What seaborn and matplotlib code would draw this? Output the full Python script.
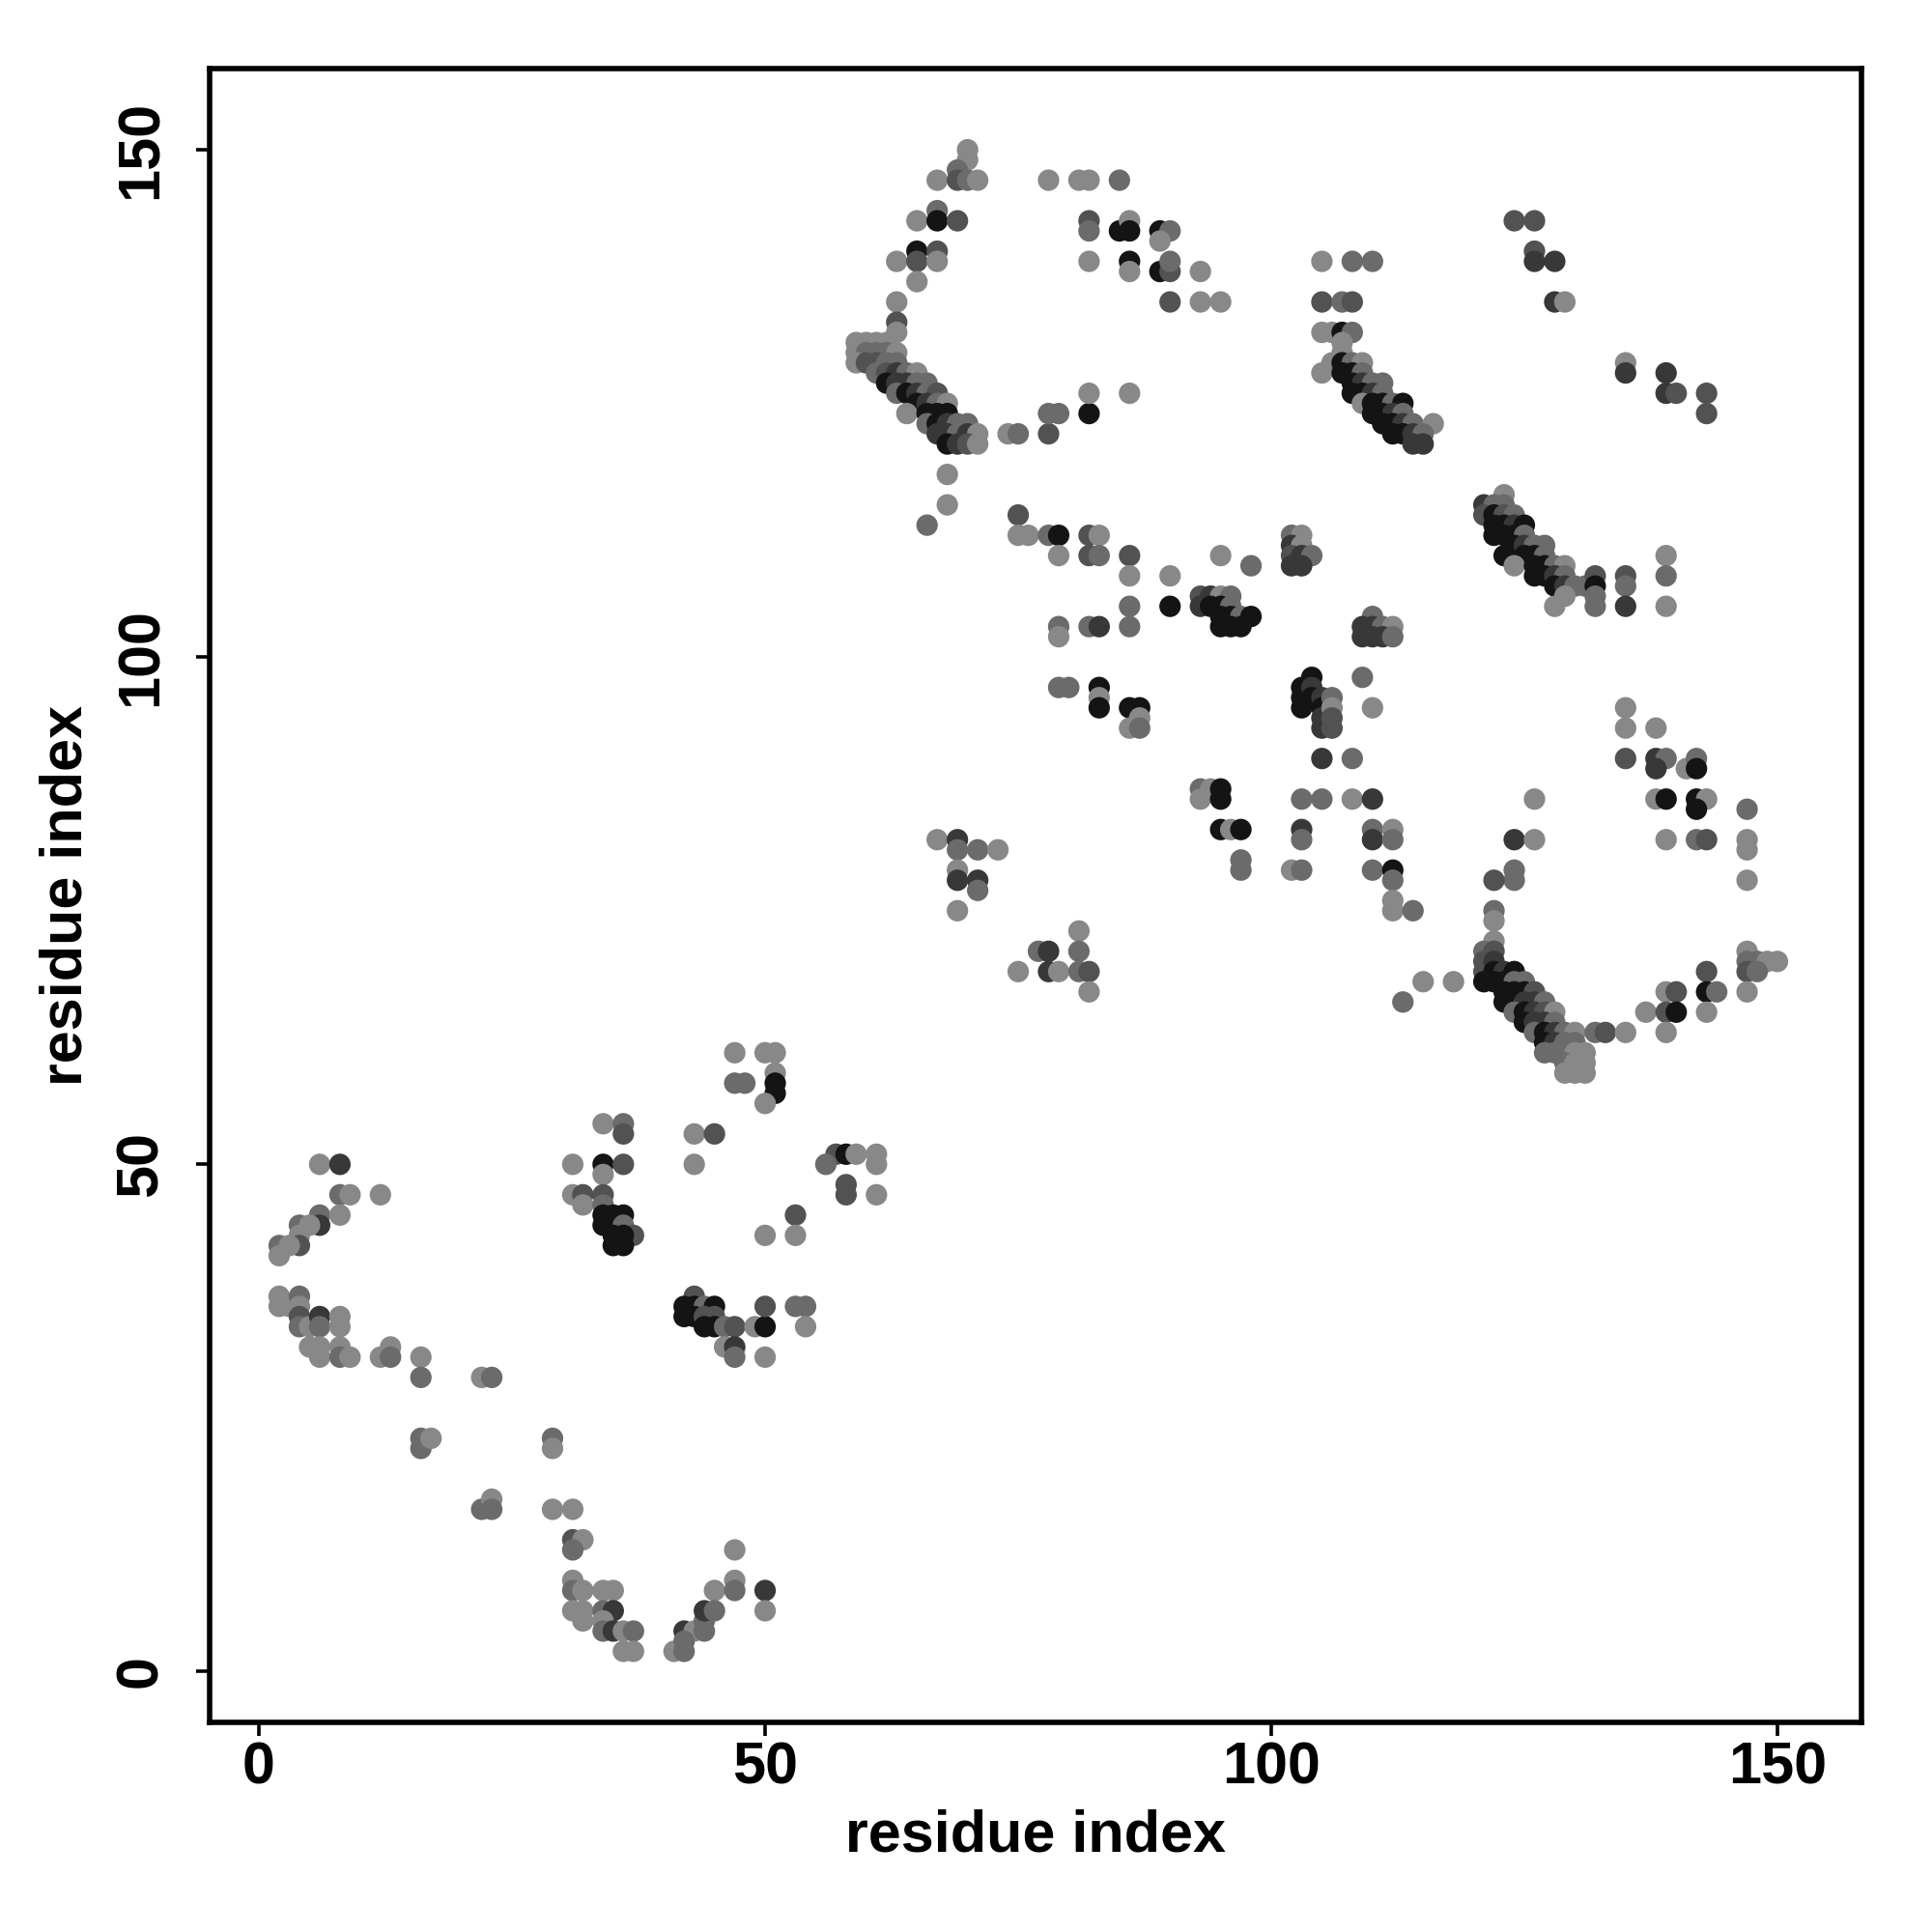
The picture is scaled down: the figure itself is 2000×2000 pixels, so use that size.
### Contact map of residue pairs, shaded by contact strength
import pandas as pd
import numpy as np
import seaborn as sns
import matplotlib.pyplot as plt

### contacts as (residue i, residue j, shade level 1=light .. 5=darkest)
lower_left = [
    (6,50,1),(8,50,4),(8,47,2),(9,47,1),(12,47,1),
    (6,45,2),(6,44,4),(8,45,1),(4,44,2),(5,44,1),(4,43,1),(4,42,3),
    (2,42,2),(2,41,1),(3,42,1),
    (2,37,1),(2,36,1),(3,36,1),(4,37,2),(4,36,1),
    (4,35,3),(4,34,2),(5,34,1),(6,35,4),(6,34,2),(8,35,1),(8,34,1),
    (5,32,1),(6,32,1),(6,31,1),(8,32,1),(8,31,2),(9,31,1),
    (12,31,1),(13,32,1),(13,31,2),(16,31,1),(16,29,2),(22,29,1),(23,29,2),
    (16,23,2),(16,22,2),(17,23,1),(22,16,2),(23,17,1),(23,16,2),
]

lower_bottom = [
    (29,23,2),(29,22,1),(29,16,1),(31,16,1),
    (31,13,3),(32,13,1),(31,12,2),(47,12,1),
    (31,9,1),(31,8,2),(32,8,1),(34,8,1),(35,8,1),
    (45,8,1),(47,9,1),(47,8,2),(50,8,4),
    (31,6,1),(32,6,1),(32,5,1),(34,6,2),(35,6,4),(34,5,1),
    (34,4,2),(35,4,4),(36,4,1),(37,4,2),(36,2,1),(37,2,1),
    (41,2,1),(42,2,2),(42,4,4),(43,4,1),(42,3,2),
    (44,5,2),(44,4,2),(44,6,4),(45,6,2),(50,6,1),
]

lower_mid = [
    (47,61,1),(50,61,1),(51,61,1),(51,59,1),
    (47,58,2),(48,58,2),(51,58,5),(51,57,5),(50,56,1),
    (34,54,1),(36,54,2),(36,53,3),(43,53,1),(45,53,3),
    (31,50,1),(34,50,5),(34,49,1),(36,50,3),(43,50,1),
    (31,47,1),(32,47,3),(32,46,1),(34,47,3),(34,46,2),
    (34,45,5),(34,44,5),(35,45,5),(36,45,5),(35,44,5),(36,44,2),(37,43,3),
    (35,43,5),(36,43,5),(35,42,5),(36,42,5),
    (53,45,3),(50,43,1),(53,43,1),
    (57,51,3),(58,51,5),(59,51,1),(61,51,1),(56,50,2),(61,50,1),
    (58,48,3),(58,47,3),(61,47,1),
    (43,37,3),(42,36,5),(42,35,5),(43,36,5),(44,36,2),(45,36,5),
    (43,35,5),(44,35,3),(45,35,3),(44,34,5),(45,34,5),(46,34,2),(47,34,3),
    (49,34,1),(50,34,5),(50,36,3),(53,36,2),(54,36,2),(54,34,1),
    (46,32,1),(47,32,4),(47,31,2),(50,31,1),
]

upper_left = [
    (70,150,1),(70,149,1),(67,147,1),(69,148,2),(69,147,3),(70,147,2),(71,147,1),
    (78,147,1),(81,147,1),(82,147,1),(85,147,2),
    (65,143,1),(67,144,2),(67,143,5),(69,143,3),(82,143,3),(82,142,2),
    (85,142,5),(86,143,1),(86,142,5),(89,142,5),(90,142,2),(89,141,1),
    (63,139,1),(65,140,5),(65,139,3),(67,140,3),(67,139,1),(65,137,1),
    (82,139,1),(86,139,5),(86,138,1),(89,138,5),(90,138,3),(90,139,2),(90,135,3),
    (63,135,1),(63,133,3),(63,132,1),
    (59,131,1),(60,131,1),(61,131,1),(62,131,1),
    (59,130,1),(60,130,2),(61,130,2),(62,130,2),(63,130,1),
    (59,129,1),(60,129,3),(61,129,3),(62,129,2),(63,129,2),
    (61,128,2),(62,128,3),(63,128,4),(64,128,2),(65,128,1),
    (62,127,5),(63,127,4),(64,127,4),(65,127,2),(66,127,2),
    (63,126,2),(64,126,5),(65,126,4),(66,126,2),(67,126,3),
    (65,125,5),(66,125,4),(67,125,2),(68,125,1),
    (64,124,1),(66,124,5),(67,124,5),(68,124,5),
    (66,123,2),(67,123,5),(68,123,4),(69,123,2),(70,123,2),
    (67,122,4),(68,122,4),(69,122,2),(70,122,4),(71,122,1),
    (68,121,5),(69,121,4),(70,121,3),(71,121,1),
    (74,122,1),(75,122,2),(78,122,3),(78,124,2),(79,124,2),(82,124,5),
    (82,126,1),(86,126,1),(68,118,1),(68,115,1),(66,113,2),(75,114,3),
]

upper_mid = [
    (93,138,1),(93,135,1),(95,135,1),
    (105,139,1),(108,139,2),(110,139,2),(105,135,3),(107,135,2),(108,135,3),
    (105,132,1),(106,132,1),(107,132,5),(108,132,2),
    (107,131,1),(107,130,1),(106,129,1),(105,128,1),
    (107,129,5),(108,129,2),(109,129,1),(107,128,5),(108,128,5),(109,128,2),
    (108,127,5),(109,127,4),(110,127,2),(111,127,2),
    (108,126,5),(109,126,5),(110,126,4),(111,126,2),
    (109,125,1),(110,125,5),(111,125,5),(112,125,2),(113,125,5),
    (110,124,5),(111,124,5),(112,124,4),(113,124,2),
    (111,123,5),(112,123,5),(113,123,4),(114,123,2),(116,123,1),
    (112,122,5),(113,122,5),(114,122,4),(115,122,2),(114,121,4),(115,121,4),
]

upper_right = [
    (124,143,3),(126,143,3),(126,140,3),(126,139,4),(128,139,4),
    (128,135,4),(129,135,1),(135,129,1),(135,128,4),(139,128,4),
    (139,126,4),(140,126,3),(143,126,3),(143,124,3),
]

centre = [
    (75,112,1),(76,112,1),(78,112,2),(79,112,5),(82,112,3),(83,112,1),
    (79,110,1),(82,110,3),(83,110,2),(86,110,3),
    (86,108,1),(90,108,1),(95,110,1),(98,109,2),(86,105,2),(90,105,5),
    (93,106,3),(94,106,4),(95,106,1),(96,106,2),
    (93,105,4),(94,105,5),(95,105,5),(96,105,2),
    (95,104,5),(96,104,5),(97,104,2),(98,104,5),(95,103,5),(96,103,5),(97,103,5),
    (79,103,2),(79,102,1),(82,103,2),(83,103,4),(86,103,2),
    (79,97,2),(80,97,2),(83,97,5),(83,96,1),(83,95,5),(86,95,5),(87,95,5),
    (87,94,1),(86,93,1),(87,93,2),
    (93,87,2),(94,87,1),(95,87,5),(93,86,1),(95,86,5),
]

centre_right = [
    (102,112,2),(103,112,1),(102,111,4),(103,111,1),
    (102,110,3),(103,110,4),(104,110,2),(102,109,4),(103,109,4),
    (110,104,2),(109,103,4),(110,103,4),(111,103,2),(112,103,1),
    (109,102,4),(110,102,4),(111,102,4),(112,102,2),
    (109,98,2),(104,98,5),(103,97,5),(103,96,5),(103,95,5),(104,97,4),(104,96,5),
    (105,96,4),(105,95,5),(105,94,4),(105,93,4),
    (106,96,2),(106,95,1),(106,94,3),(106,93,3),(110,95,1),
    (105,90,4),(108,90,2),(103,86,2),(105,86,2),(108,86,1),(110,86,4),(126,86,1),
    (123,116,1),(121,115,4),(122,115,2),(123,115,2),
    (121,114,3),(122,114,5),(123,114,3),(124,114,2),
    (122,113,5),(123,113,5),(124,113,4),(125,113,5),
    (122,112,5),(123,112,5),(124,112,5),(125,112,2),
    (124,111,5),(125,111,4),(126,111,2),(127,111,2),
    (123,110,5),(125,110,5),(126,110,5),(127,110,2),
    (124,109,1),(126,109,5),(127,109,5),(128,109,2),(129,109,1),
    (126,108,5),(127,108,5),(128,108,4),(129,108,2),
    (128,107,5),(129,107,4),(130,107,2),(131,107,2),(129,106,1),(128,105,1),
]

far_right = [
    (132,108,3),(132,107,5),(132,106,2),(132,105,2),
    (135,108,3),(135,107,2),(135,105,4),(139,110,1),(139,108,2),(139,105,1),
    (135,95,1),(135,93,1),(138,93,1),(135,90,3),(138,90,4),(139,90,2),(138,89,4),
    (141,89,1),(142,90,2),(142,89,5),(138,86,1),(139,86,5),
    (142,86,5),(143,86,1),(142,85,5),(147,85,2),
]

middle_low = [
    (95,83,5),(96,83,1),(97,83,5),(97,80,2),(97,79,2),
    (67,82,1),(69,82,4),(69,81,2),(71,81,2),(73,81,1),
    (69,79,1),(69,78,4),(71,78,4),(71,77,2),(69,75,1),(81,73,1),
    (77,71,2),(78,71,4),(81,71,2),
    (75,69,1),(78,69,4),(79,69,1),(81,69,2),(82,69,3),(82,67,1),
]

right_low = [
    (103,83,4),(103,82,2),(110,83,2),(110,82,4),(112,83,1),(112,82,2),
    (124,82,4),(126,82,1),(102,79,1),(103,79,2),
    (110,79,2),(112,79,5),(112,78,2),(124,79,2),(124,78,2),(122,78,3),
    (112,76,1),(112,75,1),(114,75,2),(122,75,2),(122,74,1),
    (122,72,1),(121,71,2),(122,71,3),(115,68,1),(118,68,1),(113,66,2),
    (121,70,3),(121,69,3),(121,68,5),(122,70,4),(122,69,5),(123,69,4),(124,69,5),
    (122,68,5),(123,68,5),(124,68,2),(125,68,2),
    (123,67,5),(124,67,5),(125,67,5),(126,67,3),
    (123,66,5),(124,66,5),(125,66,4),(126,66,4),(127,66,2),
    (124,65,2),(125,65,5),(126,65,4),(127,65,3),(128,65,1),
    (125,64,5),(126,64,4),(127,64,4),(128,64,2),
    (126,63,2),(127,63,5),(128,63,4),(129,63,2),(130,63,1),
    (127,62,5),(128,62,4),(129,62,2),(130,62,2),
    (127,61,2),(128,61,2),(129,61,2),(130,61,1),(131,61,1),
    (129,60,2),(130,60,1),(131,60,1),(129,59,1),(130,59,1),(131,59,1),
    (139,82,1),(142,82,2),(143,82,3),(147,82,1),(147,81,1),(147,78,1),
    (147,71,1),(147,70,2),(148,70,2),(149,70,1),(150,70,1),
    (147,69,3),(148,69,2),(143,69,3),(147,67,1),
    (139,67,1),(140,67,3),(143,67,5),(144,67,2),
    (137,65,1),(139,65,3),(140,65,5),(143,65,1),
    (139,63,1),(132,63,2),(133,63,3),(135,63,1),
]

shade_colours = {1: '#888888', 2: '#6b6b6b', 3: '#525252', 4: '#383838', 5: '#141414'}

df = pd.DataFrame(lower_left + lower_bottom + lower_mid + upper_left + upper_mid +
                  upper_right + centre + centre_right + far_right + middle_low + right_low,
                  columns=['i', 'j', 'level'])

sns.set_style('white')
plt.rcParams['font.family'] = ['Liberation Sans', 'DejaVu Sans']
plt.rcParams['text.color'] = 'black'
plt.rcParams['xtick.color'] = 'black'
plt.rcParams['ytick.color'] = 'black'
plt.rcParams['axes.labelcolor'] = 'black'

fig = plt.figure(figsize=(10, 10), dpi=200)
ax = fig.add_axes([0.1085, 0.1085, 0.855, 0.856])

sns.scatterplot(data=df, x='i', y='j', hue='level', palette=shade_colours,
                s=64, linewidth=0, legend=False, ax=ax)

ax.set_xlim(-4.87, 158.3)
ax.set_ylim(-5.0, 158.0)
ax.set_xticks([0, 50, 100, 150])
ax.set_yticks([0, 50, 100, 150])
ax.set_yticklabels(['0', '50', '100', '150'], rotation=90, va='center')

for lab in ax.get_xticklabels() + ax.get_yticklabels():
    lab.set_fontweight('bold')
    lab.set_fontsize(22)
    lab.set_color('black')

ax.tick_params(axis='both', direction='out', length=5, width=1.3, color='black',
               bottom=True, left=True)
ax.tick_params(axis='x', pad=2)
ax.tick_params(axis='y', pad=10)

for sp in ax.spines.values():
    sp.set_linewidth(2.0)
    sp.set_color('black')

ax.set_xlabel('residue index', fontsize=22, fontweight='bold', color='black')
ax.set_ylabel('residue index', fontsize=22, fontweight='bold', color='black')
ax.xaxis.set_label_coords(0.5, -0.052)
ax.yaxis.set_label_coords(-0.07, 0.5)

fig.savefig('out.png', dpi=200, facecolor='white')
